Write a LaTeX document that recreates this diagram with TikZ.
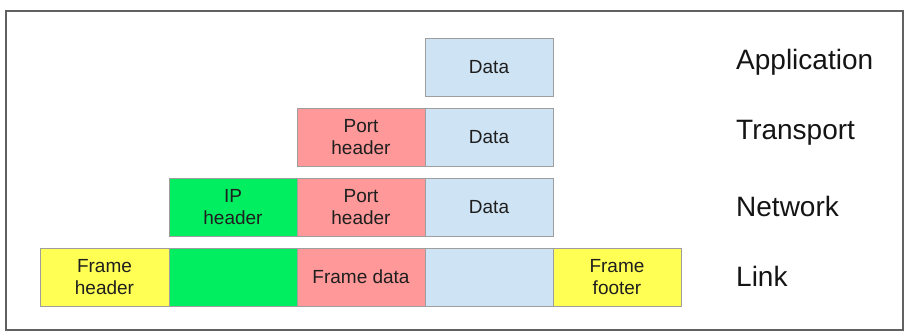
\documentclass[tikz,border=0pt]{standalone}
\usepackage{fontspec}
\setmainfont{Liberation Sans}
\usepackage{tikz}
\usetikzlibrary{positioning}
\definecolor{datblue}{RGB}{206,227,243}
\definecolor{portred}{RGB}{255,152,152}
\definecolor{ipgreen}{RGB}{0,238,96}
\definecolor{frmyellow}{RGB}{255,255,84}
\tikzset{
  seg/.style={draw=black!38, line width=0.9pt, minimum width=128pt,
    minimum height=58pt, align=center, inner sep=0pt, outer sep=0pt,
    text=black!88, font=\fontsize{19}{22}\selectfont},
  datbox/.style={seg, fill=datblue},
  portbox/.style={seg, fill=portred},
  ipbox/.style={seg, fill=ipgreen},
  frmbox/.style={seg, fill=frmyellow},
  layer/.style={anchor=base west, inner sep=0pt, text=black!92,
    font=\fontsize{28}{32}\selectfont}
}

\begin{document}
\begin{tikzpicture}[x=1pt, y=1pt, node distance=12pt]
  \useasboundingbox (0,0) rectangle (909,336);
  \draw[line width=2pt, black!62] (6,6) rectangle (903,325);

  % application
  \node[datbox] (appdata) at (489,269) {Data};
  % transport
  \node[datbox, below=of appdata] (trdata) {Data};
  \node[portbox, left=0pt of trdata] (trport) {Port\\header};
  % network
  \node[datbox, below=of trdata] (netdata) {Data};
  \node[portbox, left=0pt of netdata] (netport) {Port\\header};
  \node[ipbox, left=0pt of netport] (netip) {IP\\header};
  % link
  \node[datbox, below=of netdata] (lnkdata) {};
  \node[portbox, left=0pt of lnkdata] (lnkport) {Frame data};
  \node[ipbox, left=0pt of lnkport] (lnkip) {};
  \node[frmbox, left=0pt of lnkip, minimum width=129pt] (lnkhead) {Frame\\header};
  \node[frmbox, right=0pt of lnkdata] (lnkfoot) {Frame\\footer};

  \node[layer] (lapp) at (736,266) {Application};
  \node[layer] (ltr) at (736,196) {Transport};
  \node[layer] (lnet) at (736,119) {Network};
  \node[layer] (llnk) at (736,49) {Link};
\end{tikzpicture}
\end{document}
